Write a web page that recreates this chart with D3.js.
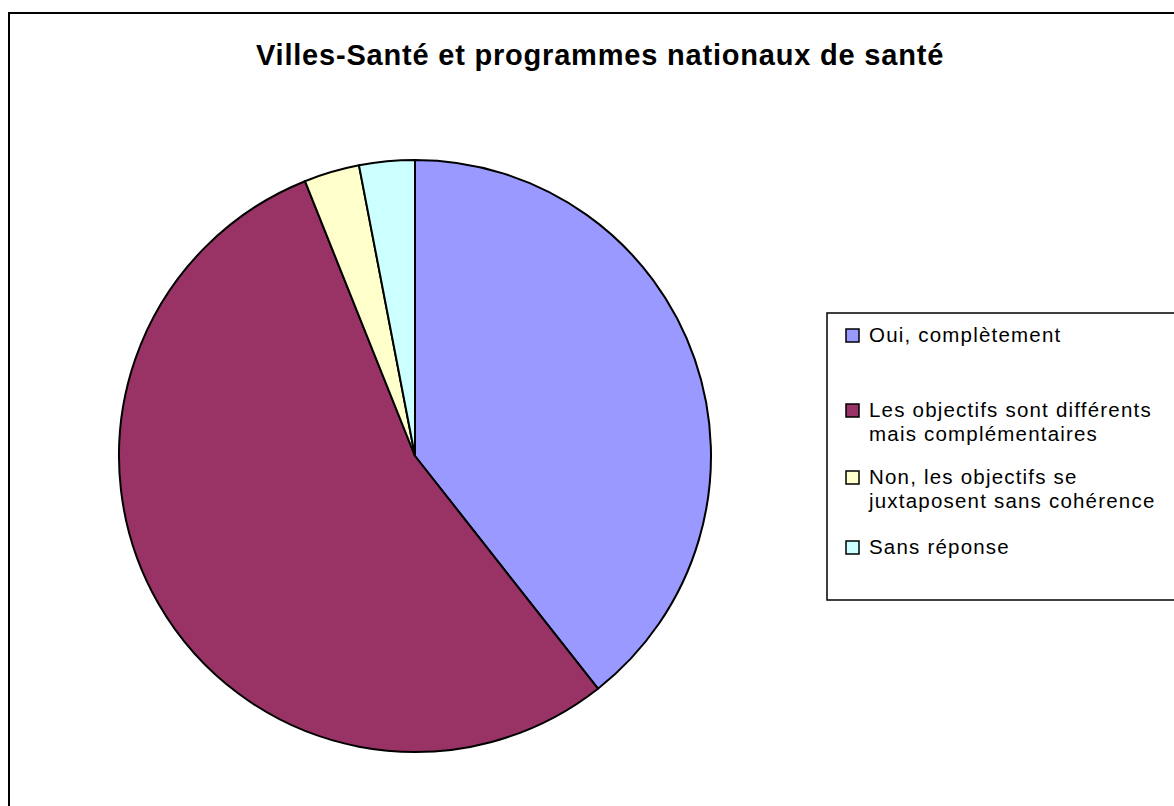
<!DOCTYPE html>
<html>
<head>
<meta charset="utf-8">
<script src="https://cdn.jsdelivr.net/npm/d3@7"></script>
<style>
  html, body { margin: 0; padding: 0; background: #fff; }
  svg { display: block; }
</style>
</head>
<body>
<script>
// Data
const categories = ["Oui, complètement", "Les objectifs sont différents mais complémentaires", "Non, les objectifs se juxtaposent sans cohérence", "Sans réponse"]
const legendLines = [["Oui, complètement"], ["Les objectifs sont différents", "mais complémentaires"], ["Non, les objectifs se", "juxtaposent sans cohérence"], ["Sans réponse"]]
const values = [13, 18, 1, 1]
const colors = ["#9999FF", "#993366", "#FFFFCC", "#CCFFFF"]
const title = "Villes-Santé et programmes nationaux de santé"

const width = 1174, height = 806
const font = "Arial, 'Liberation Sans', sans-serif"

const svg = d3.select("body").append("svg")
  .attr("width", width)
  .attr("height", height)

// Chart border
svg.append("rect")
  .attr("x", 9).attr("y", 13)
  .attr("width", width + 20).attr("height", height + 20)
  .attr("fill", "#fff")
  .attr("stroke", "#000")
  .attr("stroke-width", 2)

// Title
svg.append("text")
  .attr("x", 600).attr("y", 65)
  .attr("text-anchor", "middle")
  .attr("font-family", font)
  .attr("font-weight", "bold")
  .attr("font-size", "29px")
  .attr("letter-spacing", "0.8px")
  .attr("fill", "#000")
  .text(title)

// Pie
const cx = 415, cy = 456, r = 296
const pie = d3.pie().sort(null).value(d => d)
const arc = d3.arc().innerRadius(0).outerRadius(r)
svg.append("g")
  .attr("transform", `translate(${cx},${cy})`)
  .selectAll("path")
  .data(pie(values))
  .join("path")
  .attr("d", arc)
  .attr("fill", (d, i) => colors[i])
  .attr("stroke", "#000")
  .attr("stroke-width", 2)
  .attr("stroke-linejoin", "round")

// Legend
svg.append("rect")
  .attr("x", 827).attr("y", 313)
  .attr("width", 400).attr("height", 287)
  .attr("fill", "#fff")
  .attr("stroke", "#000")
  .attr("stroke-width", 1.5)

const itemY = [335, 410, 477, 547]
const lineH = 24
const legend = svg.append("g")
legend.selectAll("g")
  .data(categories)
  .join("g")
  .each(function (d, i) {
    const g = d3.select(this)
    g.append("rect")
      .attr("x", 846).attr("y", itemY[i] - 6)
      .attr("width", 13).attr("height", 13)
      .attr("fill", colors[i])
      .attr("stroke", "#000")
      .attr("stroke-width", 1.5)
    legendLines[i].forEach((t, j) => {
      g.append("text")
        .attr("x", 869)
        .attr("y", itemY[i] + j * lineH)
        .attr("dy", "0.35em")
        .attr("font-family", font)
        .attr("font-size", "20.5px")
        .attr("letter-spacing", "1.2px")
        .attr("fill", "#000")
        .text(t)
    })
  })
</script>
</body>
</html>
